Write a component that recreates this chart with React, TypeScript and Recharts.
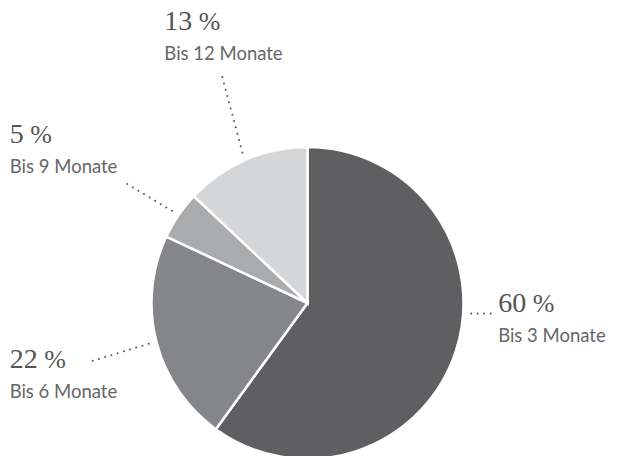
import { PieChart, Pie, Cell } from "recharts";

const labels = ["Bis 3 Monate", "Bis 6 Monate", "Bis 9 Monate", "Bis 12 Monate"];
const shares = [60, 22, 5, 13];
const colors = ["#5f5f61", "#858689", "#aaabad", "#d5d6d8"];

// label placement per slice: optional anchor angle override, leader vector, text offset from leader end
const labelLayout = [
  { angle: -3.7, leader: [24, 0], text: [3, -2] },
  { angle: null, leader: [-59, 18], text: [-80, 6] },
  { angle: null, leader: [-50, -30], text: [-112, -38] },
  { angle: null, leader: [-21, -79], text: [-57, -43] },
];

const data = labels.map((label, i) => ({ label, value: shares[i] }));

const RAD = Math.PI / 180;

function SliceLabel(props: any) {
  const { cx, cy, midAngle, outerRadius, index } = props;
  const lay = labelLayout[index];
  const a = lay.angle ?? midAngle;
  const r = outerRadius + 8;
  const x1 = cx + r * Math.cos(-a * RAD);
  const y1 = cy + r * Math.sin(-a * RAD);
  const x2 = x1 + lay.leader[0];
  const y2 = y1 + lay.leader[1];
  const tx = x2 + lay.text[0];
  const ty = y2 + lay.text[1];
  return (
    <g>
      <line
        x1={x1}
        y1={y1}
        x2={x2}
        y2={y2}
        stroke="#555"
        strokeWidth={2}
        strokeDasharray="0 6.5"
        strokeLinecap="round"
      />
      <text x={tx} y={ty} fill="#555" fontFamily="'Liberation Serif', serif" fontSize={28}>
        {shares[index]}
        <tspan fontSize={26}>{" %"}</tspan>
      </text>
      <text x={tx} y={ty + 30} fill="#666" fontFamily="Lato, sans-serif" fontSize={18.5}>
        {labels[index]}
      </text>
    </g>
  );
}

export default function App() {
  return (
    <div style={{ position: "fixed", left: 0, top: 0, width: 617, height: 456, background: "#fff" }}>
      <PieChart width={617} height={456} margin={{ top: 0, right: 0, bottom: 0, left: 0 }}>
        <Pie
          data={data}
          dataKey="value"
          nameKey="label"
          cx={307.5}
          cy={303}
          outerRadius={156}
          startAngle={90}
          endAngle={-270}
          stroke="#fff"
          strokeWidth={2.5}
          label={SliceLabel}
          labelLine={false}
          isAnimationActive={false}
        >
          {data.map((d, i) => (
            <Cell key={d.label} fill={colors[i]} />
          ))}
        </Pie>
      </PieChart>
    </div>
  );
}
